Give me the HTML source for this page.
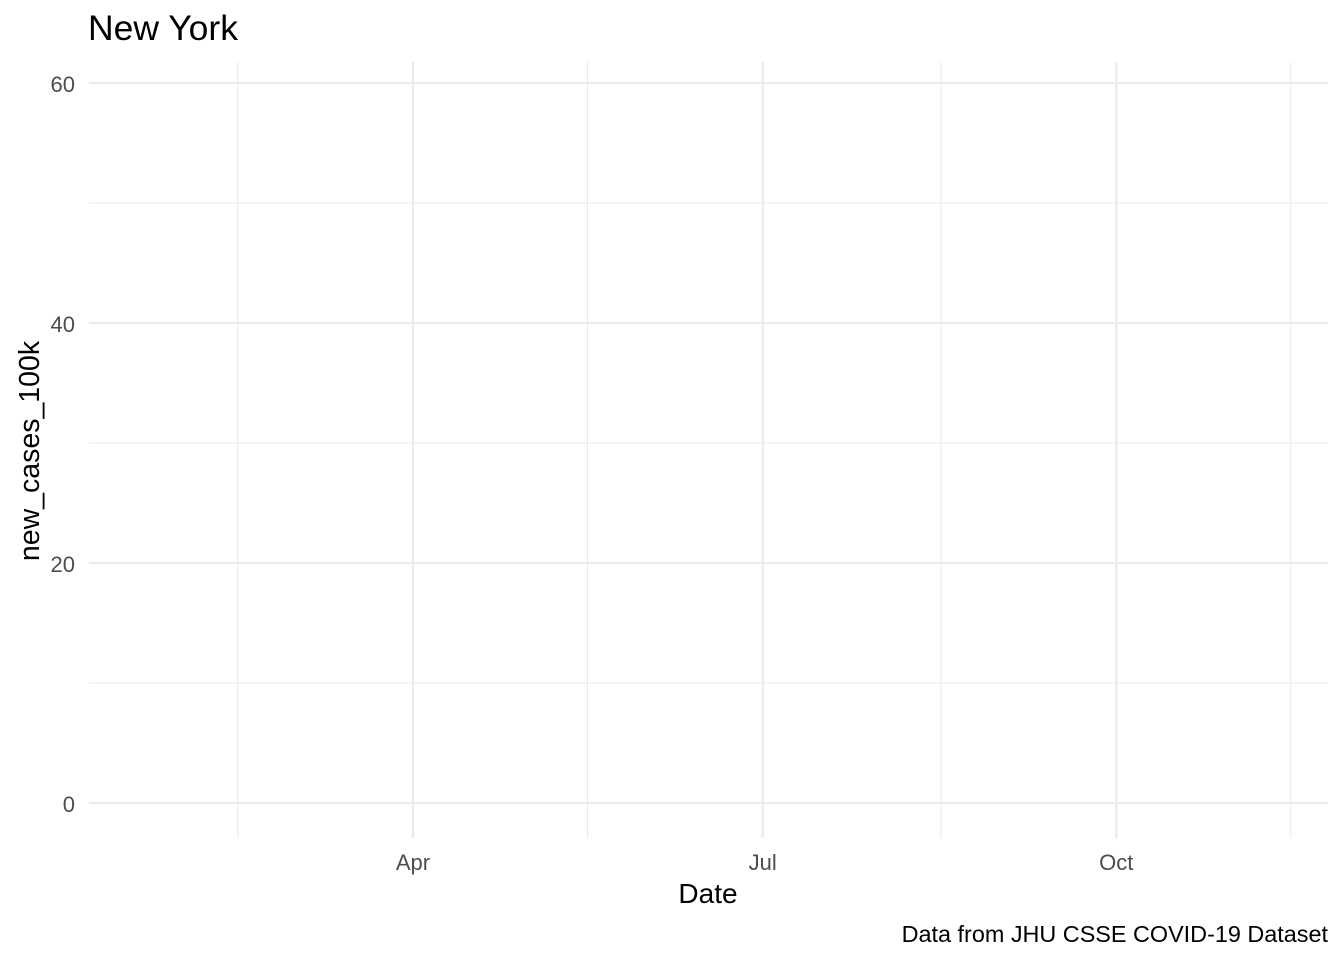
<!DOCTYPE html>
<html><head><meta charset="utf-8">
<style>
html,body{margin:0;padding:0;background:#fff;}
svg{display:block;font-family:"Liberation Sans",Arial,sans-serif;}
</style></head>
<body>
<svg id="chart" width="1344" height="960" viewBox="0 0 1344 960" xmlns="http://www.w3.org/2000/svg">
  <rect x="0" y="0" width="1344" height="960" fill="#fff"/>
  <g id="grid"></g>
  <g id="axes"></g>
  <text x="88" y="40" font-size="35.5" fill="#000">New York</text>
  <text x="708" y="903" font-size="28" text-anchor="middle" fill="#000">Date</text>
  <text transform="translate(39,451) rotate(-90)" font-size="28.5" text-anchor="middle" fill="#000">new_cases_100k</text>
  <text x="1328" y="942" font-size="23.4" text-anchor="end" fill="#000">Data from JHU CSSE COVID-19 Dataset</text>
</svg>
<script>
const yTicks = [0, 20, 40, 60];
const yMinor = [10, 30, 50];
const xTickLabels = ["Apr", "Jul", "Oct"];
const xTickDates = ["2020-04-01", "2020-07-01", "2020-10-01"];
const xMinorDates = ["2020-02-15", "2020-05-16", "2020-08-16", "2020-11-15"];

const NS = "http://www.w3.org/2000/svg";
const plotL = 89, plotR = 1328, plotT = 62, plotB = 838;
const day = s => Date.parse(s) / 86400000;
const anchor = day("2020-04-01");
const xScale = s => 413 + (day(s) - anchor) * 3.843;
const yScale = v => 803 - v * 12;

const grid = document.getElementById('grid');
const axes = document.getElementById('axes');
function line(x1_, y1_, x2_, y2_, w, name) {
  const l = document.createElementNS(NS, 'line');
  l.setAttribute('x1', x1_); l.setAttribute('y1', y1_);
  l.setAttribute('x2', x2_); l.setAttribute('y2', y2_);
  l.setAttribute('stroke', '#ebebeb'); l.setAttribute('stroke-width', w);
  
  
  grid.appendChild(l);
}
yMinor.forEach(v => line(plotL, yScale(v), plotR, yScale(v), 1.1, 'y-minor-gridline'));
xMinorDates.forEach(d => line(xScale(d) + 1.5, plotT, xScale(d) + 1.5, plotB, 1.1, 'x-minor-gridline'));
yTicks.forEach(v => line(plotL, yScale(v), plotR, yScale(v), 2.2, 'y-major-gridline'));
xTickDates.forEach(d => line(xScale(d), plotT, xScale(d), plotB, 2.2, 'x-major-gridline'));

yTicks.forEach(v => {
  const t = document.createElementNS(NS, 'text');
  t.setAttribute('x', 75); t.setAttribute('y', yScale(v) + 9);
  t.setAttribute('font-size', '22'); t.setAttribute('fill', '#4d4d4d');
  t.setAttribute('text-anchor', 'end');
  
  
  t.textContent = v;
  axes.appendChild(t);
});
xTickDates.forEach((d, i) => {
  const t = document.createElementNS(NS, 'text');
  t.setAttribute('x', xScale(d)); t.setAttribute('y', 870);
  t.setAttribute('font-size', '22'); t.setAttribute('fill', '#4d4d4d');
  t.setAttribute('text-anchor', 'middle');
  
  
  t.textContent = xTickLabels[i];
  axes.appendChild(t);
});
</script>
</body></html>
